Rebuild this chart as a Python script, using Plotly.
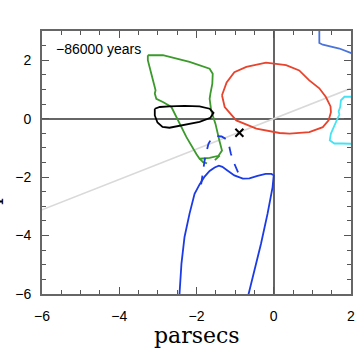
import plotly.graph_objects as go

# ---------------- data ----------------
green_x = [-3.26, -2.87, -2.18, -1.66, -1.58, -1.59, -1.64, -1.66, -1.62, -1.51, -1.41, -1.34,
           -1.43, -1.66, -1.92, -2.00, -2.26, -2.48, -2.65, -2.87, -3.04, -3.08, -3.06, -3.17, -3.26, -3.26]
green_y = [2.17, 2.17, 1.94, 1.71, 1.54, 1.20, 0.86, 0.68, 0.28, -0.17, -0.74, -1.09,
           -1.27, -1.34, -1.37, -1.22, -0.63, -0.06, 0.40, 0.57, 0.68, 0.86, 0.97, 1.54, 2.00, 2.17]

green_dash_x = [-1.92, -1.83, -1.71, -1.58, -1.40]
green_dash_y = [-1.37, -1.49, -1.54, -1.49, -1.26]

black_x = [-3.08, -2.95, -2.70, -2.31, -1.92, -1.66, -1.56, -1.64, -1.92, -2.31, -2.70, -2.88, -3.01, -3.08, -3.08]
black_y = [0.34, 0.40, 0.42, 0.44, 0.42, 0.34, 0.20, 0.03, -0.11, -0.21, -0.31, -0.28, -0.13, 0.11, 0.34]

red_x = [-1.34, -1.22, -1.02, -0.71, -0.20, 0.32, 0.66, 0.92, 1.18, 1.35, 1.47, 1.48, 1.42, 1.27,
         0.92, 0.41, 0.15, -0.45, -0.97, -1.27, -1.34]
red_y = [0.80, 1.24, 1.59, 1.77, 1.92, 1.83, 1.65, 1.31, 1.04, 0.74, 0.42, 0.22, -0.06, -0.29,
         -0.46, -0.51, -0.49, -0.34, -0.06, 0.40, 0.80]

cyan_x = [2.05, 1.83, 1.74, 1.72, 1.68, 1.70, 1.65, 1.57, 1.48, 1.45, 1.57, 1.78, 2.05]
cyan_y = [0.75, 0.75, 0.63, 0.40, 0.25, 0.14, 0.00, -0.23, -0.51, -0.74, -0.85, -0.85, -0.86]

cblue_x = [1.18, 1.18, 1.27, 1.70, 2.05]
cblue_y = [3.10, 2.59, 2.53, 2.40, 2.22]

blue_x = [-2.44, -2.44, -2.39, -2.31, -2.18, -2.05, -1.92, -1.79, -1.66, -1.53, -1.42, -1.33, -1.20,
          -1.02, -0.80, -0.63, -0.42, -0.21, -0.06, 0.00, -0.03, -0.16, -0.33, -0.50, -0.65, -0.67]
blue_y = [-6.10, -5.99, -4.97, -4.05, -3.25, -2.57, -2.25, -1.98, -1.79, -1.67, -1.61, -1.65, -1.77,
          -1.94, -2.05, -2.04, -1.96, -1.89, -1.89, -1.94, -2.34, -3.25, -4.28, -5.20, -5.99, -6.10]

blue_dash_x = [-1.88, -1.83, -1.79, -1.74, -1.69, -1.61, -1.49, -1.35, -1.22, -1.16, -1.11, -1.02, -0.89]
blue_dash_y = [-2.25, -1.77, -1.43, -1.12, -0.86, -0.67, -0.59, -0.61, -0.71, -0.91, -1.20, -1.54, -1.94]

gray_line_x = [-6.0, 2.0]
gray_line_y = [-3.12, 1.04]

star_x = [-0.89]
star_y = [-0.48]

x_ticks = [-6, -4, -2, 0, 2]
y_ticks = [-6, -4, -2, 0, 2]
x_range = [-6, 2]
y_range = [-6, 3]
label_text = "\u221286000 years"
axis_title = "parsecs"

# ---------------- figure ----------------
fig = go.Figure()

def add_line(x, y, color, dash="solid", width=1.8):
    fig.add_trace(go.Scatter(x=x, y=y, mode="lines",
                             line=dict(color=color, width=width, dash=dash),
                             hoverinfo="skip", showlegend=False))

add_line(gray_line_x, gray_line_y, "#d9d9d9", width=1.6)
add_line(green_x, green_y, "#3c9a2c")
add_line(green_dash_x, green_dash_y, "#3c9a2c", dash="dash")
add_line(black_x, black_y, "#000000")
add_line(red_x, red_y, "#e8432c")
add_line(cyan_x, cyan_y, "#48e3f2")
add_line(cblue_x, cblue_y, "#4a74dc")
add_line(blue_x, blue_y, "#1b3be6")
add_line(blue_dash_x, blue_dash_y, "#1b3be6", dash="dash")

fig.add_trace(go.Scatter(x=star_x, y=star_y, mode="markers",
                         marker=dict(symbol="x-thin", size=8, line=dict(color="#000000", width=2)),
                         hoverinfo="skip", showlegend=False))

axis_common = dict(
    showline=True, linecolor="#666666", linewidth=1.8, mirror="ticks",
    ticks="inside", ticklen=7, tickwidth=1.2, tickcolor="#555555",
    showgrid=False, zeroline=True, zerolinecolor="#666666", zerolinewidth=1.6,
    tickfont=dict(family="Liberation Sans, Arial, sans-serif", size=14, color="#000000"),
    minor=dict(ticks="inside", ticklen=4, tickwidth=1, tickcolor="#555555", dtick=0.5, showgrid=False),
)

fig.update_xaxes(range=x_range, tickvals=x_ticks, ticklabelstandoff=8, **axis_common)
fig.update_yaxes(range=y_range, tickvals=y_ticks, ticklabelstandoff=6, **axis_common)

fig.add_annotation(x=-5.69, y=2.37, xref="x", yref="y", text=label_text, showarrow=False,
                   xanchor="left", yanchor="middle",
                   font=dict(family="Liberation Sans, Arial, sans-serif", size=14, color="#000000"))

fig.add_annotation(x=0.5, y=-0.156, xref="paper", yref="paper", text=axis_title, showarrow=False,
                   xanchor="center", yanchor="middle",
                   font=dict(family="DejaVu Serif, serif", size=22, color="#000000"))

fig.add_annotation(x=(5 - 42) / 309, y=0.5, xref="paper", yref="paper", text=axis_title,
                   showarrow=False, textangle=-90, xanchor="right", yanchor="middle",
                   font=dict(family="DejaVu Serif, serif", size=22, color="#000000"))

fig.update_layout(
    width=356, height=364,
    margin=dict(l=42, r=5, t=31, b=70, autoexpand=False),
    paper_bgcolor="white", plot_bgcolor="white",
    showlegend=False,
)

fig.write_html("out.html", config={"displayModeBar": False},
               post_script="document.body.style.margin='0';")
